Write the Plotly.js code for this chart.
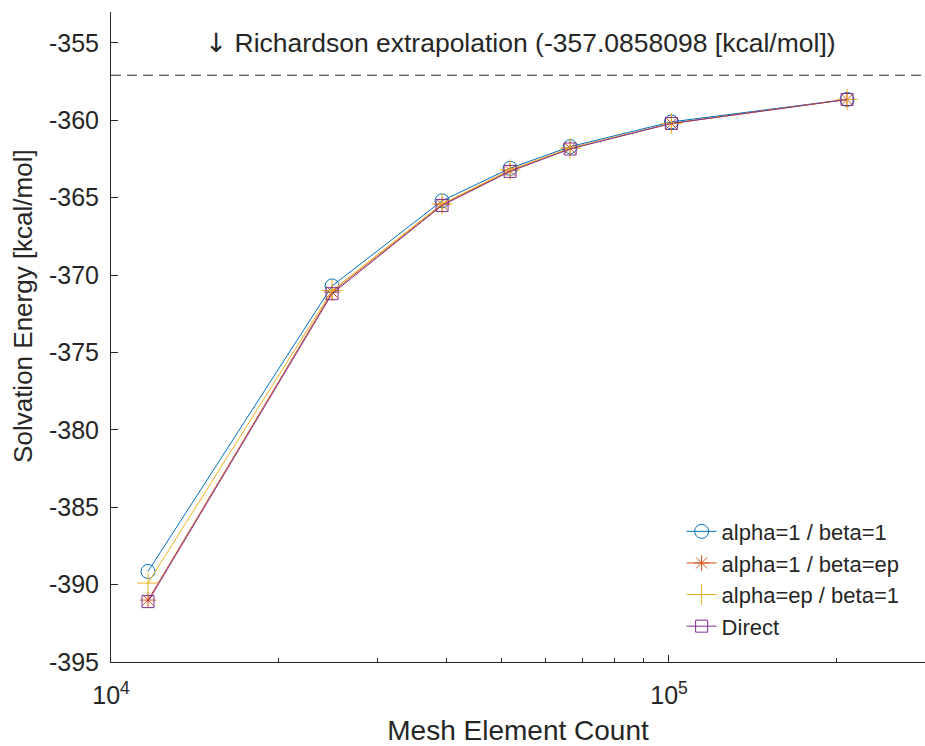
<!DOCTYPE html>
<html>
<head>
<meta charset="utf-8">
<script src="https://cdn.plot.ly/plotly-3.0.1.min.js"></script>
<style>
html,body{margin:0;padding:0;background:#fff;}
#chart{width:925px;height:746px;}
</style>
</head>
<body>
<div id="chart"></div>
<script>
// ---- data ----
const meshCounts = [11650, 24900, 39200, 51900, 66500, 101000, 208500];
const alpha1Beta1 = [-389.15, -370.70, -365.20, -363.10, -361.70, -360.10, -358.65];
const alpha1BetaEp = [-391.00, -371.10, -365.45, -363.25, -361.80, -360.20, -358.65];
const alphaEpBeta1 = [-389.90, -371.00, -365.40, -363.20, -361.80, -360.20, -358.65];
const direct = [-391.10, -371.20, -365.50, -363.30, -361.85, -360.20, -358.65];
const seriesNames = ['alpha=1 / beta=1', 'alpha=1 / beta=ep', 'alpha=ep / beta=1', 'Direct'];
const richardson = -357.0858098;
const yTicks = [-395, -390, -385, -380, -375, -370, -365, -360, -355];
const yTickLabels = yTicks.map(v => String(v));
const xMajorTicks = [1e4, 1e5];
const xMajorLabels = ['10<sup>4</sup>', '10<sup>5</sup>'];
const xMinorTicks = [2e4, 3e4, 4e4, 5e4, 6e4, 7e4, 8e4, 9e4, 2e5];

const FONT = 'Liberation Sans, Arial, sans-serif';
const TXT = '#262626';

const styles = [
  {color: '#0072BD', symbol: 'circle-open', size: 14},
  {color: '#D95319', symbol: 'asterisk-open', size: 13},
  {color: '#EDB120', symbol: 'cross-thin-open', size: 15},
  {color: '#7E2F8E', symbol: 'square-open', size: 12}
];
const allSeries = [alpha1Beta1, alpha1BetaEp, alphaEpBeta1, direct];

const traces = allSeries.map((ys, i) => ({
  type: 'scatter',
  mode: 'lines+markers',
  x: meshCounts,
  y: ys,
  name: seriesNames[i],
  line: {color: styles[i].color, width: 1},
  marker: {symbol: styles[i].symbol, size: styles[i].size, color: styles[i].color,
           line: {color: styles[i].color, width: 1}}
}));

const layout = {
  width: 925, height: 746,
  margin: {l: 111, r: 0, t: 12, b: 84},
  paper_bgcolor: '#fff', plot_bgcolor: '#fff',
  font: {family: FONT, color: TXT, size: 25},
  showlegend: true,
  legend: {
    x: 0.701, xanchor: 'left', y: 0.233, yanchor: 'top',
    bgcolor: 'rgba(0,0,0,0)', borderwidth: 0,
    font: {family: FONT, size: 22, color: TXT}
  },
  xaxis: {
    type: 'log',
    range: [4, 5.4588],
    showgrid: false, zeroline: false,
    showline: true, linecolor: TXT, linewidth: 1,
    ticks: 'inside', ticklen: 7, tickcolor: TXT, tickwidth: 1,
    tickmode: 'array', tickvals: xMajorTicks, ticktext: xMajorLabels,
    tickfont: {family: FONT, size: 25, color: TXT},
    ticklabelstandoff: 11,
    minor: {tickmode: 'array', tickvals: xMinorTicks, ticks: 'inside', ticklen: 4, tickcolor: TXT, showgrid: false},
    title: {text: 'Mesh Element Count', font: {family: FONT, size: 28, color: TXT}, standoff: 12}
  },
  yaxis: {
    range: [-395, -353],
    showgrid: false, zeroline: false,
    showline: true, linecolor: TXT, linewidth: 1,
    ticks: 'inside', ticklen: 7, tickcolor: TXT, tickwidth: 1,
    tickmode: 'array', tickvals: yTicks, ticktext: yTickLabels,
    tickfont: {family: FONT, size: 25, color: TXT},
    ticklabelstandoff: 6
  },
  shapes: [{
    type: 'line', xref: 'paper', x0: 0, x1: 1, yref: 'y', y0: richardson, y1: richardson,
    line: {color: TXT, width: 1, dash: '10px,6px'}
  }],
  annotations: [{
    xref: 'paper', x: 0.113, xanchor: 'left',
    yref: 'y', y: -355, yanchor: 'middle',
    text: '<span style="font-family:DejaVu Sans">\u2193</span> Richardson extrapolation (' + richardson.toFixed(7) + ' [kcal/mol])',
    showarrow: false,
    font: {family: FONT, size: 26.5, color: TXT}
  }, {
    xref: 'paper', x: -0.108, xanchor: 'center',
    yref: 'paper', y: 0.548, yanchor: 'middle',
    textangle: -90,
    text: 'Solvation Energy [kcal/mol]',
    showarrow: false,
    font: {family: FONT, size: 26, color: TXT}
  }]
};

Plotly.newPlot('chart', traces, layout, {displayModeBar: false, staticPlot: true});
</script>
</body>
</html>
